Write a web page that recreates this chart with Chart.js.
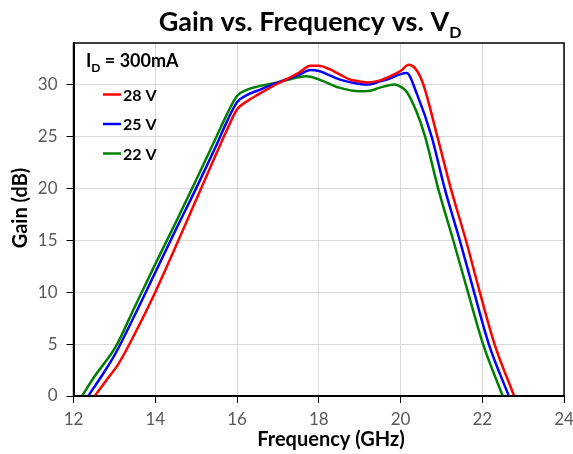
<!DOCTYPE html>
<html>
<head>
<meta charset="utf-8">
<script src="https://cdn.jsdelivr.net/npm/chart.js@4.4.0/dist/chart.umd.min.js"></script>
<style>
    html, body { margin: 0; padding: 0; background: #ffffff; }
</style>
</head>
<body>
<canvas id="graficoGanancia" width="573" height="454"></canvas>
<script>
// Datos (frecuencia en GHz, ganancia en dB)
const frec28 = [12.52, 12.8, 13.1, 13.5, 14.0, 14.5, 15.0, 15.5, 15.75, 16.0, 16.25, 16.5, 17.0, 17.5, 17.8, 18.0, 18.25, 18.5, 18.75, 19.0, 19.2, 19.5, 19.75, 20.0, 20.2, 20.35, 20.55, 20.9, 21.23, 21.6, 21.94, 22.3, 22.78];
const gan28  = [0, 1.5, 3.1, 6.0, 10.0, 14.4, 18.9, 23.4, 25.6, 27.6, 28.4, 29.0, 30.1, 31.1, 31.8, 31.8, 31.5, 31.0, 30.5, 30.3, 30.2, 30.4, 30.8, 31.3, 31.9, 31.6, 30.1, 25.0, 20.0, 15.0, 10.0, 5.0, 0];

const frec25 = [12.36, 12.7, 13.0, 13.5, 14.0, 14.5, 15.0, 15.5, 15.75, 16.0, 16.25, 16.5, 17.0, 17.5, 17.8, 18.0, 18.5, 19.0, 19.2, 19.5, 19.75, 20.0, 20.15, 20.4, 20.76, 21.08, 21.45, 21.8, 22.16, 22.65];
const gan25  = [0, 2.0, 3.9, 7.8, 11.9, 16.0, 20.0, 24.2, 26.4, 28.3, 29.0, 29.4, 30.2, 30.9, 31.4, 31.3, 30.5, 30.05, 30.0, 30.3, 30.6, 31.0, 31.1, 29.1, 25.0, 20.0, 15.0, 10.0, 5.0, 0];

const frec22 = [12.21, 12.5, 13.04, 13.5, 14.0, 14.5, 15.0, 15.5, 15.75, 16.0, 16.25, 16.5, 17.0, 17.5, 17.7, 18.0, 18.5, 19.0, 19.25, 19.5, 19.85, 20.0, 20.15, 20.4, 20.6, 20.92, 21.29, 21.65, 22.02, 22.5];
const gan22  = [0, 1.8, 4.8, 8.6, 12.7, 16.7, 20.8, 25.0, 27.1, 28.9, 29.5, 29.8, 30.2, 30.7, 30.8, 30.5, 29.7, 29.35, 29.4, 29.7, 30.0, 29.8, 29.3, 27.3, 25.0, 20.0, 15.0, 10.0, 5.0, 0];

const etiquetas = ['28 V', '25 V', '22 V'];
const colores = ['#ff0000', '#0000ff', '#008000'];
const corriente = '300mA';

const fuente = 'Lato, "Liberation Sans", sans-serif';

function puntos(xs, ys) {
    return xs.map((x, i) => ({ x: x, y: ys[i] }));
}

// Título y rótulos de ejes
const pluginTitulo = {
    id: 'titulo',
    afterDraw(chart) {
        const ctx = chart.ctx;
        ctx.save();
        ctx.fillStyle = '#000';
        ctx.textBaseline = 'alphabetic';
        ctx.font = 'bold 27px ' + fuente;
        const principal = 'Gain vs. Frequency vs. V';
        const w1 = ctx.measureText(principal).width;
        ctx.font = 'bold 16px ' + fuente;
        const w2 = ctx.measureText('D').width;
        const x0 = 310 - (w1 + w2) / 2;
        ctx.font = 'bold 27px ' + fuente;
        ctx.fillText(principal, x0, 31);
        ctx.font = 'bold 16px ' + fuente;
        ctx.fillText('D', x0 + w1, 38);

        // eje X
        ctx.font = 'bold 20px ' + fuente;
        ctx.textAlign = 'center';
        ctx.textBaseline = 'middle';
        ctx.fillText('Frequency (GHz)', 331, 440);

        // eje Y
        ctx.translate(21, 208);
        ctx.rotate(-Math.PI / 2);
        ctx.fillText('Gain (dB)', 0, 0);
        ctx.restore();
    }
};

// Marco del área de trazado
const pluginMarco = {
    id: 'marco',
    afterDraw(chart) {
        const a = chart.chartArea;
        const ctx = chart.ctx;
        ctx.save();
        ctx.strokeStyle = '#000';
        ctx.lineWidth = 1.5;
        ctx.strokeRect(a.left, a.top, a.right - a.left, a.bottom - a.top);
        ctx.restore();
    }
};

// Leyenda dentro del gráfico
const pluginLeyenda = {
    id: 'leyenda',
    afterDraw(chart) {
        const ctx = chart.ctx;
        ctx.save();
        ctx.fillStyle = '#000';
        ctx.textBaseline = 'alphabetic';
        ctx.font = 'bold 18px ' + fuente;
        ctx.fillText('I', 86, 67);
        let x = 86 + ctx.measureText('I').width;
        ctx.font = 'bold 12px ' + fuente;
        ctx.fillText('D', x, 72);
        x += ctx.measureText('D').width;
        ctx.font = 'bold 18px ' + fuente;
        ctx.fillText(' = ' + corriente, x, 67);

        ctx.textBaseline = 'middle';
        ctx.font = 'bold 16px ' + fuente;
        chart.data.datasets.forEach((ds, i) => {
            const y = 94.5 + i * 29.5;
            ctx.strokeStyle = ds.borderColor;
            ctx.lineWidth = 2.5;
            ctx.beginPath();
            ctx.moveTo(103, y);
            ctx.lineTo(121, y);
            ctx.stroke();
            ctx.fillStyle = '#000';
            ctx.fillText(ds.label, 123, y + 1);
        });
        ctx.restore();
    }
};

const config = {
    type: 'line',
    data: {
        datasets: [
            { label: etiquetas[0], data: puntos(frec28, gan28), borderColor: colores[0] },
            { label: etiquetas[1], data: puntos(frec25, gan25), borderColor: colores[1] },
            { label: etiquetas[2], data: puntos(frec22, gan22), borderColor: colores[2] }
        ]
    },
    options: {
        responsive: false,
        animation: false,
        layout: { padding: { top: 43, right: 9, left: 0, bottom: 0 } },
        elements: {
            point: { radius: 0 },
            line: { borderWidth: 2.5, cubicInterpolationMode: 'monotone', fill: false }
        },
        plugins: {
            legend: { display: false },
            title: { display: false },
            tooltip: { enabled: false }
        },
        scales: {
            x: {
                type: 'linear',
                min: 12,
                max: 24,
                ticks: { stepSize: 2, color: '#595959', font: { family: fuente, size: 17 }, padding: 6 },
                grid: { color: '#d9d9d9', tickColor: '#000', tickLength: 7 },
                border: { color: '#000', width: 2 },
                afterFit(scale) {
                    scale.height = 58;
                    scale.paddingLeft = 0;
                    scale.paddingRight = 0;
                }
            },
            y: {
                min: 0,
                max: 34,
                ticks: { stepSize: 5, color: '#595959', font: { family: fuente, size: 17 }, padding: 9 },
                grid: { color: '#d9d9d9', tickColor: '#000', tickLength: 7 },
                border: { color: '#000', width: 2 },
                afterBuildTicks(scale) {
                    scale.ticks = scale.ticks.filter(t => t.value % 5 === 0);
                },
                afterFit(scale) {
                    scale.width = 73.5;
                    scale.paddingTop = 0;
                    scale.paddingBottom = 0;
                }
            }
        }
    },
    plugins: [pluginTitulo, pluginMarco, pluginLeyenda]
};

const grafico = new Chart(document.getElementById('graficoGanancia'), config);
</script>
</body>
</html>
